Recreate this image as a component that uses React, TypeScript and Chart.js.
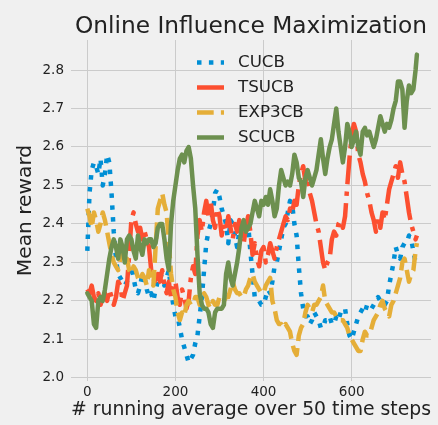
import React, { useEffect, useRef } from "react";
import { Chart, registerables } from "chart.js";

Chart.register(...registerables);

// ---- data ----
const steps = [
  0, 5, 10, 15, 20, 25, 30, 35, 40, 45,
  50, 55, 60, 65, 70, 75, 80, 85, 90, 95,
  100, 105, 110, 115, 120, 125, 130, 135, 140, 145,
  150, 155, 160, 165, 170, 175, 180, 185, 190, 195,
  200, 205, 210, 215, 220, 225, 230, 235, 240, 245,
  250, 255, 260, 265, 270, 275, 280, 285, 290, 295,
  300, 305, 310, 315, 320, 325, 330, 335, 340, 345,
  350, 355, 360, 365, 370, 375, 380, 385, 390, 395,
  400, 405, 410, 415, 420, 425, 430, 435, 440, 445,
  450, 455, 460, 465, 470, 475, 480, 485, 490, 495,
  500, 505, 510, 515, 520, 525, 530, 535, 540, 545,
  550, 555, 560, 565, 570, 575, 580, 585, 590, 595,
  600, 605, 610, 615, 620, 625, 630, 635, 640, 645,
  650, 655, 660, 665, 670, 675, 680, 685, 690, 695,
  700, 705, 710, 715, 720, 725, 730, 735, 740, 745,
  748,
];

const cucb = [
  2.33, 2.48, 2.54, 2.56, 2.55, 2.53, 2.57, 2.50, 2.53, 2.58,
  2.56, 2.48, 2.38, 2.31, 2.27, 2.26, 2.25, 2.24, 2.25, 2.28,
  2.29, 2.26, 2.23, 2.22, 2.24, 2.27, 2.26, 2.23, 2.21, 2.22,
  2.20, 2.23, 2.25, 2.27, 2.26, 2.24, 2.26, 2.28, 2.23, 2.19,
  2.16, 2.16, 2.13, 2.10, 2.08, 2.06, 2.04, 2.05, 2.06, 2.09,
  2.11, 2.16, 2.21, 2.28, 2.35, 2.38, 2.40, 2.43, 2.48, 2.49,
  2.47, 2.44, 2.42, 2.40, 2.35, 2.41, 2.40, 2.37, 2.34, 2.38,
  2.40, 2.40, 2.39, 2.40, 2.33, 2.27, 2.21, 2.20, 2.20, 2.19,
  2.19, 2.21, 2.23, 2.22, 2.25, 2.29, 2.30, 2.33, 2.36, 2.39,
  2.40, 2.43, 2.46, 2.45, 2.40, 2.37, 2.29, 2.22, 2.18, 2.16,
  2.16, 2.14, 2.15, 2.17, 2.16, 2.15, 2.13, 2.13, 2.15, 2.15,
  2.16, 2.14, 2.14, 2.16, 2.15, 2.17, 2.18, 2.18, 2.14, 2.11,
  2.10, 2.12, 2.14, 2.16, 2.17, 2.18, 2.17, 2.19, 2.19, 2.18,
  2.19, 2.20, 2.21, 2.20, 2.20, 2.19, 2.20, 2.24, 2.27, 2.30,
  2.34, 2.32, 2.31, 2.34, 2.35, 2.35, 2.37, 2.36, 2.33, 2.30,
  2.29,
];

const tsucb = [
  2.23, 2.22, 2.24, 2.21, 2.20, 2.22, 2.19, 2.21, 2.22, 2.20,
  2.23, 2.21, 2.19, 2.21, 2.25, 2.24, 2.20, 2.22, 2.24, 2.32,
  2.41, 2.43, 2.40, 2.38, 2.39, 2.36, 2.38, 2.36, 2.34, 2.28,
  2.26, 2.24, 2.27, 2.25, 2.28, 2.24, 2.22, 2.25, 2.21, 2.23,
  2.25, 2.21, 2.19, 2.23, 2.21, 2.18, 2.20, 2.26, 2.29, 2.27,
  2.37, 2.41, 2.38, 2.43, 2.46, 2.42, 2.46, 2.41, 2.39, 2.44,
  2.42, 2.37, 2.40, 2.38, 2.42, 2.39, 2.36, 2.40, 2.38, 2.41,
  2.37, 2.35, 2.39, 2.42, 2.38, 2.32, 2.35, 2.31, 2.29, 2.33,
  2.34, 2.30, 2.32, 2.35, 2.33, 2.31, 2.34, 2.36, 2.38, 2.40,
  2.42, 2.41, 2.44, 2.43, 2.46, 2.45, 2.50, 2.53, 2.55, 2.51,
  2.53, 2.48, 2.46, 2.43, 2.40, 2.38, 2.34, 2.30, 2.28, 2.30,
  2.31, 2.36, 2.38, 2.37, 2.40, 2.41, 2.39, 2.42, 2.50, 2.57,
  2.63, 2.66, 2.64, 2.58, 2.56, 2.53, 2.51, 2.48, 2.46, 2.43,
  2.41, 2.38, 2.42, 2.39, 2.43, 2.41, 2.45, 2.49, 2.51, 2.53,
  2.55, 2.52, 2.56, 2.53, 2.51, 2.47, 2.43, 2.40, 2.38, 2.36,
  2.37,
];

const exp3cb = [
  2.44, 2.42, 2.39, 2.43, 2.41, 2.38, 2.40, 2.43, 2.41, 2.38,
  2.35, 2.32, 2.30, 2.29, 2.28, 2.31, 2.33, 2.30, 2.31, 2.28,
  2.27, 2.29, 2.28, 2.26, 2.25, 2.27, 2.26, 2.24, 2.28, 2.26,
  2.24, 2.34, 2.44, 2.46, 2.48, 2.45, 2.43, 2.35, 2.27, 2.23,
  2.21, 2.17, 2.15, 2.17, 2.16, 2.19, 2.20, 2.19, 2.19, 2.21,
  2.21, 2.19, 2.20, 2.22, 2.21, 2.19, 2.18, 2.20, 2.19, 2.19,
  2.21, 2.20, 2.20, 2.21, 2.21, 2.23, 2.25, 2.23, 2.22, 2.22,
  2.21, 2.21, 2.23, 2.24, 2.26, 2.27, 2.25, 2.24, 2.23, 2.22,
  2.22, 2.24, 2.25, 2.26, 2.20, 2.18, 2.15, 2.14, 2.14, 2.13,
  2.14, 2.13, 2.12, 2.09, 2.07, 2.06, 2.11, 2.13, 2.14, 2.17,
  2.19, 2.18, 2.17, 2.19, 2.19, 2.20, 2.21, 2.24, 2.20, 2.19,
  2.18, 2.17, 2.17, 2.16, 2.16, 2.15, 2.15, 2.14, 2.13, 2.11,
  2.10, 2.09, 2.08, 2.07, 2.07, 2.10, 2.12, 2.11, 2.11, 2.13,
  2.15, 2.16, 2.17, 2.19, 2.20, 2.18, 2.17, 2.16, 2.19, 2.20,
  2.22, 2.24, 2.26, 2.30, 2.31, 2.28, 2.25, 2.27, 2.28, 2.33,
  2.35,
];

const scucb = [
  2.22, 2.21, 2.20, 2.14, 2.13, 2.20, 2.21, 2.20, 2.23, 2.27,
  2.31, 2.34, 2.36, 2.34, 2.31, 2.36, 2.34, 2.30, 2.36, 2.37,
  2.36, 2.33, 2.31, 2.37, 2.34, 2.32, 2.36, 2.35, 2.36, 2.36,
  2.34, 2.35, 2.39, 2.40, 2.40, 2.36, 2.31, 2.28, 2.40, 2.46,
  2.50, 2.54, 2.57, 2.58, 2.56, 2.59, 2.60, 2.57, 2.50, 2.44,
  2.32, 2.22, 2.19, 2.18, 2.18, 2.17, 2.14, 2.13, 2.17, 2.18,
  2.18, 2.18, 2.19, 2.27, 2.30, 2.26, 2.24, 2.27, 2.30, 2.34,
  2.39, 2.41, 2.38, 2.39, 2.40, 2.43, 2.46, 2.44, 2.42, 2.46,
  2.45, 2.47, 2.45, 2.49, 2.46, 2.42, 2.44, 2.50, 2.54, 2.52,
  2.50, 2.51, 2.50, 2.53, 2.58, 2.56, 2.52, 2.51, 2.47, 2.52,
  2.54, 2.52, 2.50, 2.52, 2.54, 2.58, 2.62, 2.57, 2.53, 2.57,
  2.60, 2.62, 2.66, 2.70, 2.64, 2.60, 2.56, 2.60, 2.66, 2.64,
  2.60, 2.62, 2.64, 2.60, 2.58, 2.64, 2.65, 2.63, 2.64, 2.62,
  2.60, 2.62, 2.65, 2.68, 2.66, 2.64, 2.66, 2.65, 2.67, 2.70,
  2.72, 2.77, 2.77, 2.75, 2.65, 2.72, 2.76, 2.74, 2.75, 2.80,
  2.84,
];

const seriesNames = ["CUCB", "TSUCB", "EXP3CB", "SCUCB"];
const chartTitle = "Online Influence Maximization";
const xTicks = [0, 200, 400, 600];
const yTicks = [2.0, 2.1, 2.2, 2.3, 2.4, 2.5, 2.6, 2.7, 2.8];

// ---- styles ----
const COLORS = ["#008fd5", "#fc4f30", "#e5ae38", "#6d904f"];
const LW = 4.5;
const DASHES: number[][] = [
  [4.5, 7.4],
  [28.8, 7.2, 4.5, 7.2],
  [16.7, 7.2],
  [],
];
const FONT = '"DejaVu Sans", Verdana, sans-serif';
const TEXT = "#222222";
const BG = "#f0f0f0";

const decorPlugin = {
  id: "mplDecor",
  afterDatasetsDraw(chart: any) {
    const ctx = chart.ctx as CanvasRenderingContext2D;
    const area = chart.chartArea;
    ctx.save();
    // title centred over the plot area
    ctx.fillStyle = TEXT;
    ctx.font = `23.3px ${FONT}`;
    ctx.textAlign = "center";
    ctx.textBaseline = "alphabetic";
    ctx.fillText(chartTitle, (area.left + area.right) / 2, 33);
    // legend
    seriesNames.forEach((name, i) => {
      const y = 62.5 + i * 25;
      ctx.beginPath();
      ctx.strokeStyle = COLORS[i];
      ctx.lineWidth = LW;
      ctx.lineCap = "butt";
      ctx.setLineDash(DASHES[i]);
      ctx.moveTo(197, y);
      ctx.lineTo(224, y);
      ctx.stroke();
      ctx.setLineDash([]);
      ctx.fillStyle = TEXT;
      ctx.font = `16.7px ${FONT}`;
      ctx.textBaseline = "middle";
      ctx.textAlign = "left";
      ctx.fillText(name, 238, y);
    });
    ctx.restore();
  },
};

export default function App() {
  const ref = useRef<HTMLCanvasElement | null>(null);

  useEffect(() => {
    document.body.style.margin = "0";
    document.body.style.background = BG;
    const canvas = ref.current;
    if (!canvas) return;
    const all = [cucb, tsucb, exp3cb, scucb];
    const chart = new Chart(canvas, {
      type: "line",
      data: {
        datasets: all.map((vals, i) => ({
          label: seriesNames[i],
          data: vals.map((v, k) => ({ x: steps[k], y: v })),
          borderColor: COLORS[i],
          backgroundColor: COLORS[i],
          borderWidth: LW,
          borderDash: DASHES[i],
          borderCapStyle: i === 3 ? "round" : "butt",
          borderJoinStyle: "round",
          pointRadius: 0,
          pointHoverRadius: 0,
          tension: 0,
          fill: false,
          order: 4 - i,
        })),
      },
      options: {
        responsive: false,
        animation: false,
        devicePixelRatio: 1,
        events: [],
        layout: { padding: { left: 0, right: 7, top: 40, bottom: 0 } },
        plugins: {
          legend: { display: false },
          tooltip: { enabled: false },
          title: { display: false },
        },
        scales: {
          x: {
            type: "linear",
            min: -37,
            max: 780,
            afterFit: (s: any) => {
              s.height = 44;
            },
            afterBuildTicks: (s: any) => {
              s.ticks = xTicks.map((v) => ({ value: v }));
            },
            ticks: {
              color: TEXT,
              font: { family: FONT, size: 13.5 },
              padding: 3,
              maxRotation: 0,
              callback: (v: any) => String(v),
            },
            grid: { color: "#cbcbcb", lineWidth: 1, drawTicks: false },
            border: { display: false },
            title: {
              display: true,
              text: "# running average over 50 time steps",
              color: TEXT,
              font: { family: FONT, size: 20.2 },
              padding: { top: 0, bottom: 3 },
            },
          },
          y: {
            type: "linear",
            min: 1.992,
            max: 2.878,
            afterFit: (s: any) => {
              s.width = 71;
            },
            afterBuildTicks: (s: any) => {
              s.ticks = yTicks.map((v) => ({ value: v }));
            },
            ticks: {
              color: TEXT,
              font: { family: FONT, size: 13.5 },
              padding: 7,
              callback: (v: any) => Number(v).toFixed(1),
            },
            grid: { color: "#cbcbcb", lineWidth: 1, drawTicks: false },
            border: { display: false },
            title: {
              display: true,
              text: "Mean reward",
              color: TEXT,
              font: { family: FONT, size: 20.2 },
              padding: { top: 14, bottom: 0 },
            },
          },
        },
      },
      plugins: [decorPlugin],
    });
    return () => chart.destroy();
  }, []);

  return (
    <div
      style={{
        position: "absolute",
        left: 0,
        top: 0,
        width: 438,
        height: 425,
        background: BG,
      }}
    >
      <canvas ref={ref} width={438} height={425} style={{ display: "block" }} />
    </div>
  );
}
